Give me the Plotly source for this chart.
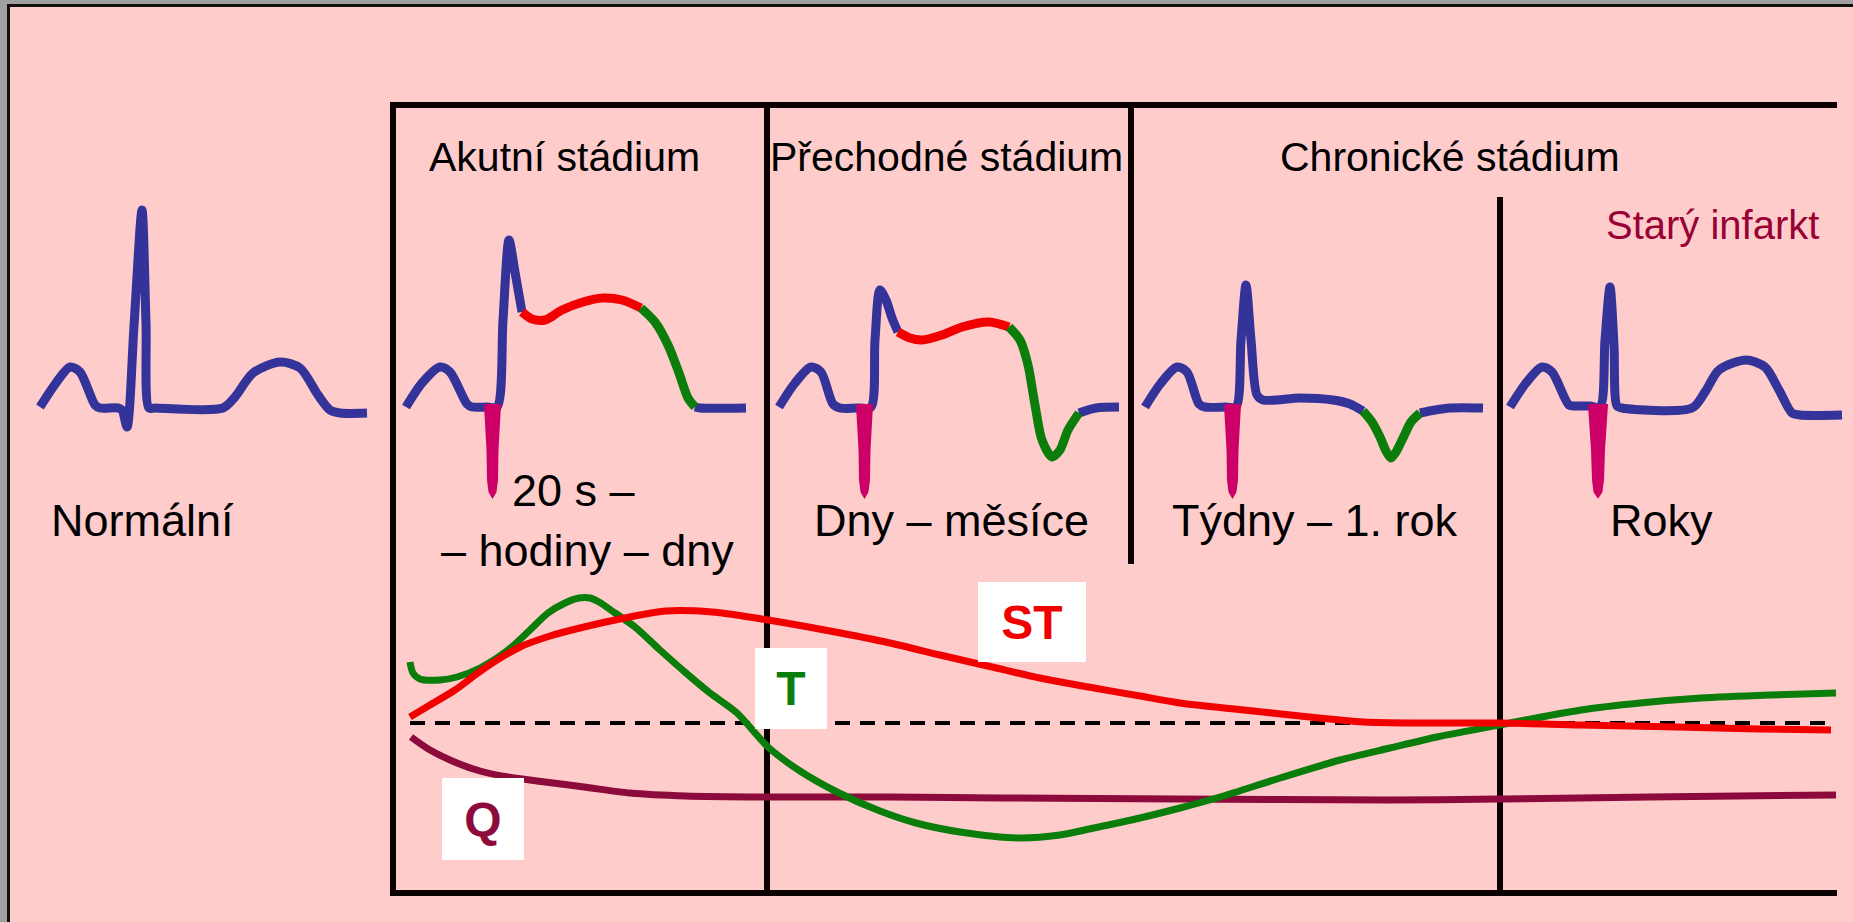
import plotly.graph_objects as go

# ---------------- data (pixel space) ----------------
# Normal ECG complex
NORMAL_X = [40, 56, 70, 80, 95, 100, 118, 122, 127, 134, 142, 146, 149, 155, 223, 235, 253, 280, 300, 318, 330, 340, 367]
NORMAL_Y = [407, 383, 367, 372, 405, 408, 408, 410, 427, 326, 210, 323, 408, 408, 408, 397, 373, 362, 368, 395, 410, 413, 413]

# Acute stage
ACUTE_BLUE1_X = [406, 422, 440, 450, 467, 472, 487, 497, 503, 509, 515, 522]
ACUTE_BLUE1_Y = [407, 383, 367, 372, 404, 407, 407, 407, 320, 240, 272, 312]
ACUTE_ST_X = [522, 532, 545, 562, 583, 603, 622, 641]
ACUTE_ST_Y = [312, 319, 320, 310, 302, 298, 300, 308]
ACUTE_T_X = [641, 655, 668, 679, 688, 695]
ACUTE_T_Y = [308, 322, 345, 373, 398, 407]
ACUTE_BLUE2_X = [695, 700, 746]
ACUTE_BLUE2_Y = [407, 408, 408]
ACUTE_Q_X = [485, 500, 497.5, 497, 495.5, 492.5, 489.5, 488, 487.5, 485]
ACUTE_Q_Y = [405, 405, 450, 480, 492, 497, 492, 480, 450, 405]

# Transitional stage
TRANS_BLUE1_X = [779, 795, 811, 821, 833, 840, 860, 871, 875, 880, 886, 892, 898]
TRANS_BLUE1_Y = [407, 383, 367, 372, 404, 408, 408, 407, 340, 290, 300, 318, 332]
TRANS_ST_X = [898, 910, 922, 942, 962, 989, 1009]
TRANS_ST_Y = [332, 338, 340, 335, 327, 322, 327]
TRANS_T_X = [1009, 1020, 1028, 1035, 1042, 1052, 1060, 1068, 1079]
TRANS_T_Y = [327, 340, 365, 405, 440, 457, 450, 430, 413]
TRANS_BLUE2_X = [1079, 1096, 1119]
TRANS_BLUE2_Y = [413, 408, 407]
TRANS_Q_X = [857, 872, 869.5, 869, 867.5, 864.5, 861.5, 860, 859.5, 857]
TRANS_Q_Y = [405, 405, 450, 480, 492, 497, 492, 480, 450, 405]

# Chronic stage
CHRON_BLUE1_X = [1145, 1161, 1177, 1187, 1199, 1205, 1226, 1236, 1241, 1246, 1251, 1257, 1263, 1300, 1333, 1350, 1363]
CHRON_BLUE1_Y = [407, 383, 367, 372, 404, 407, 407, 407, 340, 285, 340, 395, 400, 398, 400, 404, 411]
CHRON_T_X = [1363, 1372, 1380, 1386, 1391, 1396, 1403, 1411, 1420]
CHRON_T_Y = [411, 422, 437, 451, 458, 452, 438, 422, 413]
CHRON_BLUE2_X = [1420, 1435, 1450, 1483]
CHRON_BLUE2_Y = [413, 410, 408, 408]
CHRON_Q_X = [1225, 1240, 1237.5, 1237, 1235.5, 1232.5, 1229.5, 1228, 1227.5, 1225]
CHRON_Q_Y = [405, 405, 450, 480, 492, 497, 492, 480, 450, 405]

# Old infarction
OLD_BLUE_X = [1510, 1526, 1542, 1552, 1569, 1575, 1590, 1600, 1605, 1610, 1614, 1617, 1622, 1692, 1705, 1719, 1746, 1765, 1779, 1792, 1800, 1842]
OLD_BLUE_Y = [407, 383, 367, 372, 405, 406, 406, 407, 340, 287, 345, 406, 408, 408, 392, 370, 360, 367, 390, 413, 415, 415]
OLD_Q_X = [1589, 1607, 1604, 1603, 1601.5, 1598, 1594.5, 1593, 1592, 1589]
OLD_Q_Y = [405, 405, 450, 480, 492, 497, 492, 480, 450, 405]

# Evolution curves (bottom panel)
ST_CURVE_X = [410, 430, 455, 482, 520, 550, 584, 620, 666, 712, 768, 830, 890, 940, 992, 1040, 1094, 1140, 1180,
              1244, 1300, 1364, 1420, 1499, 1580, 1677, 1760, 1831]
ST_CURVE_Y = [717, 705, 690, 670, 647, 636, 627, 619, 611, 612, 620, 631, 643, 655, 667, 678, 688, 696, 703,
              710, 716, 722, 723, 723, 725, 727, 729, 730]
T_CURVE_X = [410, 413, 420, 440, 457, 480, 508, 530, 548, 565, 579, 590, 599, 615, 635, 660, 686, 710, 737, 768,
             800, 839, 880, 916, 960, 1018, 1060, 1094, 1140, 1180, 1220, 1280, 1340, 1390, 1437, 1499, 1581,
             1640, 1701, 1770, 1836]
T_CURVE_Y = [662, 673, 679, 680, 677, 668, 650, 630, 613, 603, 598, 598, 602, 613, 627, 650, 673, 693, 713, 747,
             771, 793, 811, 823, 832, 838, 835, 828, 818, 808, 797, 778, 760, 748, 737, 725, 710,
             703, 698, 695, 693]
Q_CURVE_X = [411, 430, 457, 480, 508, 545, 584, 630, 686, 768, 890, 1000, 1180, 1388, 1499, 1650, 1836]
Q_CURVE_Y = [737, 750, 763, 771, 777, 782, 787, 793, 796, 797, 797, 798, 799, 800, 799, 797, 795]
BASELINE_X = [410, 1826]
BASELINE_Y = [723, 723]

# Texts
HEADINGS = ["Akutní stádium", "Přechodné stádium", "Chronické stádium"]
HEADING_X = [564, 946, 1450]
DURATIONS = ["Normální", "20 s –", "– hodiny – dny", "Dny – měsíce", "Týdny – 1. rok", "Roky"]
DURATION_X = [142, 573, 587, 951, 1315, 1661]
DURATION_Y = [520, 490, 550, 520, 520, 520]
OLD_LABEL = "Starý infarkt"
CURVE_LABELS = ["ST", "T", "Q"]
CURVE_LABEL_X = [1032, 791, 483]
CURVE_LABEL_Y = [622, 688, 819]

# ---------------- styles ----------------
BG = "#ffcccc"
BLUE = "#333399"
RED = "#f20000"
GREEN = "#0a7d0a"
MAGENTA = "#cc0066"
CRIMSON = "#8c0a3c"
W_ECG = 9
W_CURVE = 7

fig = go.Figure()


def add(x, y, color, width=W_ECG, dash=None, shape="spline"):
    fig.add_trace(go.Scatter(x=x, y=y, mode="lines",
                             line=dict(color=color, width=width, shape=shape, dash=dash, smoothing=0.8),
                             hoverinfo="skip", showlegend=False))


def add_q(x, y):
    fig.add_trace(go.Scatter(x=x, y=y, mode="lines", fill="toself", fillcolor=MAGENTA,
                             line=dict(color=MAGENTA, width=2, shape="linear"),
                             hoverinfo="skip", showlegend=False))


# bottom evolution curves
add(BASELINE_X, BASELINE_Y, "black", width=4, dash="15px,10px", shape="linear")
add(Q_CURVE_X, Q_CURVE_Y, CRIMSON, width=W_CURVE)
add(T_CURVE_X, T_CURVE_Y, GREEN, width=W_CURVE)
add(ST_CURVE_X, ST_CURVE_Y, RED, width=W_CURVE)

# ECG complexes
add(NORMAL_X, NORMAL_Y, BLUE)
for bx, by in [(ACUTE_BLUE1_X, ACUTE_BLUE1_Y), (ACUTE_BLUE2_X, ACUTE_BLUE2_Y),
               (TRANS_BLUE1_X, TRANS_BLUE1_Y), (TRANS_BLUE2_X, TRANS_BLUE2_Y),
               (CHRON_BLUE1_X, CHRON_BLUE1_Y), (CHRON_BLUE2_X, CHRON_BLUE2_Y),
               (OLD_BLUE_X, OLD_BLUE_Y)]:
    add(bx, by, BLUE)
add(ACUTE_ST_X, ACUTE_ST_Y, RED)
add(TRANS_ST_X, TRANS_ST_Y, RED)
add(ACUTE_T_X, ACUTE_T_Y, GREEN)
add(TRANS_T_X, TRANS_T_Y, GREEN)
add(CHRON_T_X, CHRON_T_Y, GREEN)
for qx, qy in [(ACUTE_Q_X, ACUTE_Q_Y), (TRANS_Q_X, TRANS_Q_Y), (CHRON_Q_X, CHRON_Q_Y), (OLD_Q_X, OLD_Q_Y)]:
    add_q(qx, qy)

# frame
shapes = [
    dict(type="rect", x0=0, x1=7, y0=0, y1=922, fillcolor="#a0a0a0", line_width=0),
    dict(type="rect", x0=0, x1=1853, y0=0, y1=4, fillcolor="#a0a0a0", line_width=0),
    dict(type="line", x0=8.5, x1=8.5, y0=4, y1=922, line=dict(color="#101010", width=3)),
    dict(type="line", x0=7, x1=1853, y0=5.5, y1=5.5, line=dict(color="#101010", width=3)),
]
FRAME = dict(color="#0a0000", width=6)
for x0, y0, x1, y1 in [(390, 105, 1837, 105), (393, 102, 393, 896), (390, 893, 1837, 893),
                       (767, 105, 767, 893), (1131, 105, 1131, 564), (1500, 197, 1500, 893)]:
    shapes.append(dict(type="line", x0=x0, y0=y0, x1=x1, y1=y1, line=FRAME, layer="below"))

FONT = "Liberation Sans, Arial, sans-serif"
ann = []
for t, x in zip(HEADINGS, HEADING_X):
    ann.append(dict(x=x, y=157, text=t, showarrow=False, font=dict(family=FONT, size=41, color="black")))
for t, x, y in zip(DURATIONS, DURATION_X, DURATION_Y):
    ann.append(dict(x=x, y=y, text=t, showarrow=False, font=dict(family=FONT, size=45, color="black")))
ann.append(dict(x=1712, y=225, text=OLD_LABEL, showarrow=False, font=dict(family=FONT, size=40, color="#990033")))
box_sizes = [(108, 80), (72, 81), (82, 82)]
label_colors = [RED, GREEN, CRIMSON]
for t, x, y, (bw, bh), c in zip(CURVE_LABELS, CURVE_LABEL_X, CURVE_LABEL_Y, box_sizes, label_colors):
    ann.append(dict(x=x, y=y, text="<b>%s</b>" % t, showarrow=False, width=bw, height=bh, bgcolor="white",
                    borderpad=0, borderwidth=0, font=dict(family=FONT, size=48, color=c)))

fig.update_layout(
    width=1853, height=922, margin=dict(l=0, r=0, t=0, b=0),
    paper_bgcolor=BG, plot_bgcolor=BG,
    xaxis=dict(range=[0, 1853], visible=False, fixedrange=True),
    yaxis=dict(range=[922, 0], visible=False, fixedrange=True),
    shapes=shapes, annotations=ann,
)

fig.write_html("out.html", config={"displayModeBar": False},
               post_script="document.body.style.margin='0px';document.body.style.overflow='hidden';")
